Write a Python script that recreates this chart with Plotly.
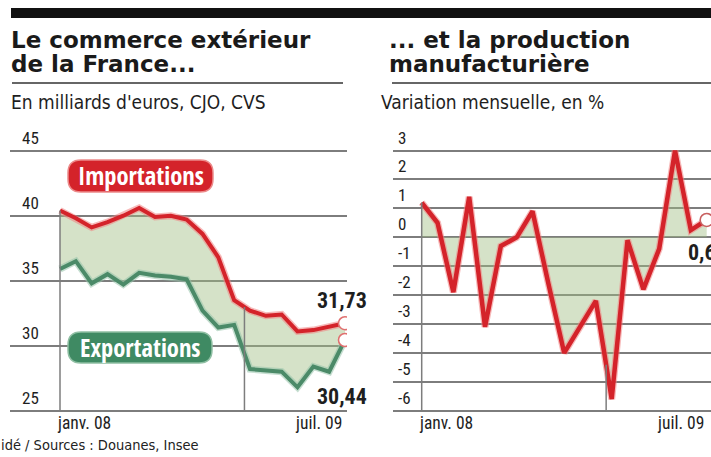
import plotly.graph_objects as go
import numpy as np

# ---------------- data ----------------
months = ["2008-01", "2008-02", "2008-03", "2008-04", "2008-05", "2008-06",
          "2008-07", "2008-08", "2008-09", "2008-10", "2008-11", "2008-12",
          "2009-01", "2009-02", "2009-03", "2009-04", "2009-05", "2009-06",
          "2009-07"]
imports = [40.4, 39.8, 39.1, 39.5, 40.0, 40.6, 39.9, 40.0, 39.7, 38.6,
           36.8, 33.5, 32.7, 32.3, 32.4, 31.1, 31.2, 31.5, 31.73]
exports = [35.9, 36.5, 34.8, 35.5, 34.7, 35.6, 35.4, 35.3, 35.1, 32.7,
           31.4, 31.6, 28.2, 28.1, 28.0, 26.8, 28.4, 28.0, 30.44]
production = [1.2, 0.5, -1.9, 1.4, -3.1, -0.3, 0.0, 0.9, -1.6, -4.0,
              -3.1, -2.2, -5.6, -0.1, -1.8, -0.4, 3.0, 0.25, 0.6]
x_tick_labels = ["janv. 08", "juil. 09"]
trade_ticks = [25, 30, 35, 40, 45]
prod_ticks = [3, 2, 1, 0, -1, -2, -3, -4, -5, -6]
year_break = 11.65  # position of the 2009 separator (month index)

# ---------------- style ----------------
W, H = 711, 457
RED = "#d4232a"
RED_HALO = "rgba(240,130,130,0.55)"
GREEN = "#4b8a68"
GREEN_HALO = "rgba(150,195,170,0.55)"
FILL = "rgba(162,191,133,0.45)"
GRID = "#7d7d7d"
TXT = "#1e1e1e"
COND = "Roboto Condensed, DejaVu Sans Condensed, sans-serif"
SEMI_COND = "DejaVu Sans Condensed, Roboto Condensed, sans-serif"
HEAVY_COND = "Open Sans Condensed, Roboto Condensed, sans-serif"
TITLE_FONT = "DejaVu Sans, sans-serif"


def px(v):
    return v / W


def py(v):
    return 1 - v / H


xs = list(range(len(months)))

fig = go.Figure()

# ---- left chart: trade ----
fig.add_trace(go.Scatter(x=xs, y=exports, mode="lines", line=dict(width=0),
                         xaxis="x", yaxis="y", hoverinfo="skip", showlegend=False))
fig.add_trace(go.Scatter(x=xs, y=imports, mode="lines", line=dict(width=0),
                         fill="tonexty", fillcolor=FILL,
                         xaxis="x", yaxis="y", hoverinfo="skip", showlegend=False))
for ys, halo, col in [(exports, GREEN_HALO, GREEN), (imports, RED_HALO, RED)]:
    fig.add_trace(go.Scatter(x=xs, y=ys, mode="lines",
                             line=dict(color=halo, width=7),
                             xaxis="x", yaxis="y", hoverinfo="skip", showlegend=False))
    fig.add_trace(go.Scatter(x=xs, y=ys, mode="lines",
                             line=dict(color=col, width=4),
                             xaxis="x", yaxis="y", showlegend=False))
fig.add_trace(go.Scatter(x=[xs[-1], xs[-1]], y=[imports[-1], exports[-1]], mode="markers",
                         marker=dict(size=13, color="white",
                                     line=dict(color="#e07070", width=1.6)),
                         xaxis="x", yaxis="y", showlegend=False))

# ---- right chart: production ----
fig.add_trace(go.Scatter(x=xs, y=production, mode="lines", line=dict(width=0),
                         fill="tozeroy", fillcolor=FILL,
                         xaxis="x2", yaxis="y2", hoverinfo="skip", showlegend=False))
fig.add_trace(go.Scatter(x=xs, y=production, mode="lines",
                         line=dict(color=RED_HALO, width=7),
                         xaxis="x2", yaxis="y2", hoverinfo="skip", showlegend=False))
fig.add_trace(go.Scatter(x=xs, y=production, mode="lines",
                         line=dict(color=RED, width=4.5),
                         xaxis="x2", yaxis="y2", showlegend=False))
fig.add_trace(go.Scatter(x=[xs[-1]], y=[production[-1]], mode="markers",
                         marker=dict(size=13, color="white",
                                     line=dict(color="#c86060", width=1.6)),
                         xaxis="x2", yaxis="y2", showlegend=False))

# ---------------- axes ----------------
step = 15.833  # px per month
yaxis_common = dict(showgrid=True, gridcolor=GRID, gridwidth=1.5, zeroline=False,
                    showline=False, ticks="", showticklabels=False, fixedrange=True)
fig.update_layout(
    xaxis=dict(domain=[px(10), px(347)], range=[(10 - 60) / step, (347 - 60) / step],
               visible=False, anchor="y"),
    yaxis=dict(domain=[(H - 413.3) / H, (H - 148.1) / H], range=[24.8, 45.2],
               tickvals=trade_ticks, anchor="x", **yaxis_common),
    xaxis2=dict(domain=[px(393), 1.0], range=[(393 - 421.7) / step, (711 - 421.7) / step],
                visible=False, anchor="y2"),
    yaxis2=dict(domain=[(H - 413.6) / H, (H - 147.7) / H], range=[-6.1, 3.1],
                tickvals=prod_ticks, anchor="x2", **yaxis_common),
)

# ---------------- shapes ----------------
shapes = []
# top black bar
shapes.append(dict(type="rect", xref="paper", yref="paper", x0=px(11), x1=1.0,
                   y0=py(18), y1=py(8), fillcolor="#111111", line=dict(width=0), layer="above"))
# rules under titles
for a, b in [(12, 343), (392, 711)]:
    shapes.append(dict(type="line", xref="paper", yref="paper", x0=px(a), x1=px(b),
                       y0=py(83), y1=py(83), line=dict(color="#333333", width=1.5)))
# vertical reference lines
shapes.append(dict(type="line", xref="x", yref="y", x0=0, x1=0, y0=25, y1=imports[0],
                   line=dict(color=GRID, width=1.5)))
shapes.append(dict(type="line", xref="x", yref="y", x0=year_break, x1=year_break, y0=25,
                   y1=float(np.interp(year_break, xs, imports)),
                   line=dict(color=GRID, width=1.5)))
shapes.append(dict(type="line", xref="x2", yref="y2", x0=0, x1=0, y0=-6, y1=production[0],
                   line=dict(color=GRID, width=1.5)))
shapes.append(dict(type="line", xref="x2", yref="y2", x0=year_break, x1=year_break, y0=-6,
                   y1=float(np.interp(year_break, xs, production)),
                   line=dict(color=GRID, width=1.5)))


def pill(x0, y0, x1, y1, r):
    rx, ry = r / W, r / H
    X0, X1 = px(x0), px(x1)
    Y0, Y1 = py(y1), py(y0)  # bottom, top in paper coords
    return (f"M {X0+rx},{Y1} L {X1-rx},{Y1} Q {X1},{Y1} {X1},{Y1-ry} "
            f"L {X1},{Y0+ry} Q {X1},{Y0} {X1-rx},{Y0} L {X0+rx},{Y0} "
            f"Q {X0},{Y0} {X0},{Y0+ry} L {X0},{Y1-ry} Q {X0},{Y1} {X0+rx},{Y1} Z")


shapes.append(dict(type="path", xref="paper", yref="paper", path=pill(68, 160, 213, 192, 13),
                   fillcolor=RED, line=dict(color="#ec8a8a", width=1.5), layer="above"))
shapes.append(dict(type="path", xref="paper", yref="paper", path=pill(68, 332, 212, 363, 13),
                   fillcolor="#3f8a63", line=dict(color="#8fbfa3", width=1.5), layer="above"))
fig.update_layout(shapes=shapes)

# ---------------- annotations ----------------
ann = []


def text(x, y, s, size, family=COND, color=TXT, xanchor="left", bold=False):
    ann.append(dict(x=x, y=py(y), xref="paper", yref="paper", text=f"<b>{s}</b>" if bold else s,
                    showarrow=False, xanchor=xanchor, yanchor="middle",
                    font=dict(family=family, size=size, color=color)))


text(px(9), 39.5, "Le commerce extérieur", 23, TITLE_FONT, "#1a1a1a", bold=True)
text(px(9), 64.5, "de la France...", 23, TITLE_FONT, "#1a1a1a", bold=True)
text(px(387), 39.5, "... et la production", 23, TITLE_FONT, "#1a1a1a", bold=True)
text(px(387), 64.5, "manufacturière", 23, TITLE_FONT, "#1a1a1a", bold=True)
text(px(9), 102, "En milliards d'euros, CJO, CVS", 19, SEMI_COND)
text(px(379), 102, "Variation mensuelle, en %", 19, SEMI_COND)
text(px(140.5), 176, "Importations", 24.5, HEAVY_COND, "white", xanchor="center", bold=True)
text(px(140), 347.5, "Exportations", 24.5, HEAVY_COND, "white", xanchor="center", bold=True)
text(px(369), 300, "31,73", 22, xanchor="right", bold=True)
text(px(369), 396, "30,44", 22, xanchor="right", bold=True)
text(px(686), 253, "0,6", 22, xanchor="left", bold=True)
text(px(-1), 445, "idé / Sources : Douanes, Insee", 14.5, "DejaVu Sans Condensed, DejaVu Sans, sans-serif", "#222")

# y tick labels, sitting just above their gridlines
for v in trade_ticks:
    ann.append(dict(x=px(20), xref="paper", y=v, yref="y", text=str(v), showarrow=False,
                    xanchor="left", yanchor="middle", yshift=13,
                    font=dict(family=COND, size=17, color=TXT)))
for v in prod_ticks:
    ann.append(dict(x=px(396), xref="paper", y=v, yref="y2", text=str(v), showarrow=False,
                    xanchor="left", yanchor="middle", yshift=13,
                    font=dict(family=COND, size=17, color=TXT)))

# x tick labels at first / last month of each chart
for xa in ["x", "x2"]:
    ann.append(dict(x=xs[0], xref=xa, y=py(423), yref="paper", text=x_tick_labels[0],
                    showarrow=False, xanchor="left", xshift=-5, yanchor="middle",
                    font=dict(family=COND, size=17.5, color=TXT)))
    ann.append(dict(x=xs[-1], xref=xa, y=py(423), yref="paper", text=x_tick_labels[1],
                    showarrow=False, xanchor="right", xshift=-1, yanchor="middle",
                    font=dict(family=COND, size=17.5, color=TXT)))
fig.update_layout(annotations=ann)

fig.update_layout(width=W, height=H, margin=dict(l=0, r=0, t=0, b=0),
                  paper_bgcolor="white", plot_bgcolor="rgba(0,0,0,0)",
                  showlegend=False)

fig.write_html("out.html", config={"displayModeBar": False},
               post_script="document.body.style.margin='0';document.body.style.overflow='hidden';")
